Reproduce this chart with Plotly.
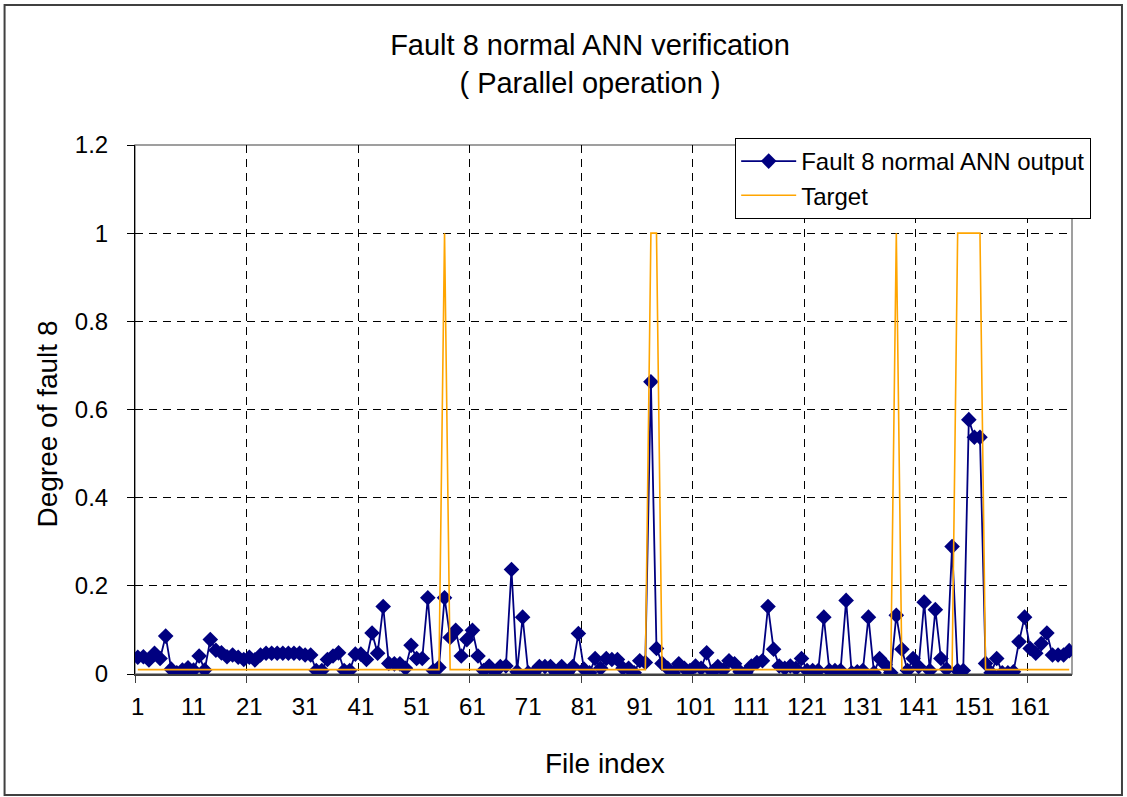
import plotly.graph_objects as go

# file index 1..168
file_index = list(range(1, 169))

ann_output = [
    0.038, 0.039, 0.032, 0.047, 0.035, 0.086, 0.011, 0.003, 0.009, 0.014,
    0.009, 0.041, 0.009, 0.078, 0.054, 0.048, 0.039, 0.043, 0.038, 0.033,
    0.038, 0.032, 0.043, 0.047, 0.047, 0.047, 0.047, 0.047, 0.047, 0.047,
    0.043, 0.043, 0.008, 0.008, 0.033, 0.041, 0.048, 0.008, 0.008, 0.045,
    0.045, 0.033, 0.093, 0.047, 0.153, 0.024, 0.023, 0.023, 0.013, 0.065,
    0.035, 0.035, 0.173, 0.008, 0.015, 0.173, 0.083, 0.099, 0.041, 0.078,
    0.099, 0.041, 0.008, 0.018, 0.005, 0.017, 0.018, 0.237, 0.005, 0.129,
    0.003, 0.003, 0.017, 0.017, 0.017, 0.003, 0.017, 0.003, 0.017, 0.092,
    0.011, 0.003, 0.035, 0.013, 0.035, 0.033, 0.033, 0.013, 0.013, 0.003,
    0.030, 0.026, 0.663, 0.058, 0.024, 0.013, 0.003, 0.023, 0.013, 0.008,
    0.018, 0.013, 0.048, 0.005, 0.017, 0.009, 0.030, 0.023, 0.005, 0.003,
    0.018, 0.026, 0.030, 0.153, 0.056, 0.018, 0.013, 0.018, 0.013, 0.035,
    0.008, 0.008, 0.008, 0.129, 0.008, 0.008, 0.008, 0.167, 0.003, 0.005,
    0.008, 0.129, 0.003, 0.035, 0.021, 0.003, 0.133, 0.056, 0.008, 0.035,
    0.017, 0.163, 0.008, 0.146, 0.035, 0.011, 0.289, 0.008, 0.008, 0.577,
    0.537, 0.537, 0.024, 0.003, 0.035, 0.003, 0.003, 0.005, 0.073, 0.129,
    0.058, 0.047, 0.069, 0.093, 0.043, 0.043, 0.043, 0.053,
]

# target is 0.01 except the fault-8 files
fault_files = [56, 93, 94, 137, 148, 149, 150, 151, 152]
target = [1.0 if i in fault_files else 0.01 for i in file_index]

x_labels = list(range(1, 169, 10))
grid_pos = [0.5 + 20 * k for k in range(9)]

fig = go.Figure()
fig.add_trace(go.Scatter(
    x=file_index, y=ann_output, mode='lines+markers',
    name='Fault 8 normal ANN output',
    line=dict(color='#000080', width=1.8),
    marker=dict(symbol='diamond', size=12, color='#000080'),
))
fig.add_trace(go.Scatter(
    x=file_index, y=target, mode='lines', name='Target',
    line=dict(color='#FFA500', width=1.6),
))

L, R, T, B = 134.5, 55, 145, 123
pw, ph = 1127 - L - R, 797 - T - B

fig.update_layout(
    width=1127, height=797,
    paper_bgcolor='white', plot_bgcolor='white',
    margin=dict(l=L, r=R, t=T, b=B),
    font=dict(family='Liberation Sans, Arial', color='black'),
    title=dict(text='Fault 8 normal ANN verification<br>( Parallel operation )',
               x=590 / 1127, xanchor='center', y=1 - 55 / 797, yanchor='top',
               font=dict(size=29)),
    showlegend=True,
    legend=dict(x=(735 - L) / pw, y=(674 - 138) / ph, xanchor='left', yanchor='top',
                bgcolor='white', bordercolor='black', borderwidth=1,
                font=dict(size=24), itemwidth=55, tracegroupgap=0),
    xaxis=dict(range=[0.5, 168.5], tickmode='array', tickvals=x_labels,
               ticks='', showgrid=False, zeroline=False,
               showline=True, linecolor='#404040', linewidth=2,
               tickfont=dict(size=24), ticklabelstandoff=10,
               minor=dict(tickmode='array', tickvals=grid_pos, ticks='outside',
                          ticklen=7, tickcolor='#404040', showgrid=True,
                          gridcolor='black', gridwidth=1, griddash='8px,6px')),
    yaxis=dict(range=[0, 1.2], dtick=0.2, ticks='outside', ticklen=7,
               tickcolor='black', showgrid=True, gridcolor='black', gridwidth=1,
               griddash='8px,6px', zeroline=False, showline=True,
               linecolor='black', linewidth=1, tickfont=dict(size=24),
               ticklabelstandoff=14),
    shapes=[
        dict(type='rect', xref='paper', yref='paper', x0=0, x1=1, y0=0, y1=1,
             line=dict(color='#808080', width=1.5), layer='below'),
        dict(type='rect', xref='paper', yref='paper',
             x0=(4 - L) / pw, x1=(1122 - L) / pw,
             y0=(674 - 795) / ph, y1=(674 - 5) / ph,
             line=dict(color='#404040', width=2)),
    ],
    annotations=[
        dict(text='Degree of fault 8', xref='paper', yref='paper',
             x=(47 - L) / pw, y=(674 - 424) / ph, showarrow=False,
             xanchor='center', yanchor='middle',
             textangle=-90, font=dict(size=28)),
        dict(text='File index', xref='paper', yref='paper',
             x=(605 - L) / pw, y=(674 - 763) / ph, showarrow=False,
             xanchor='center', yanchor='middle',
             font=dict(size=28)),
    ],
)

fig.write_html("out.html", config={'displayModeBar': False},
               post_script="document.body.style.margin='0';")
